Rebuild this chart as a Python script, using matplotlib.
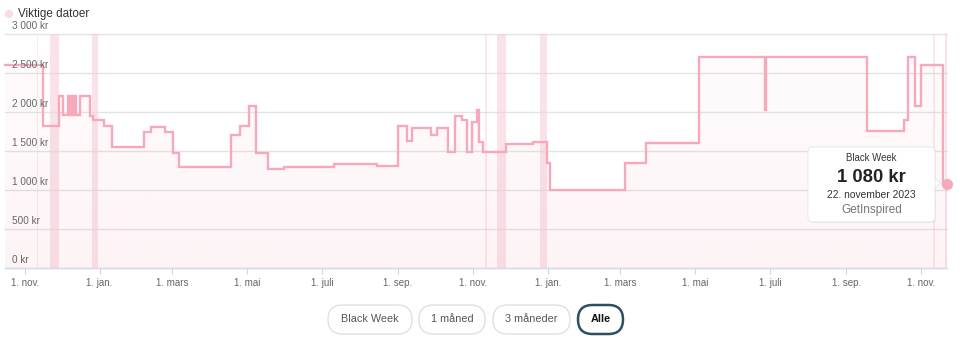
import numpy as np
import matplotlib
matplotlib.use("Agg")
import matplotlib.pyplot as plt
import matplotlib.dates as mdates
from matplotlib.patches import FancyBboxPatch, Polygon
import pandas as pd

plt.rcParams['font.family'] = ['Liberation Sans', 'DejaVu Sans']

# price history (date of change, price in kr)
change_dates = ["2021-10-16", "2021-11-16", "2021-11-29", "2021-12-02", "2021-12-06",
                "2021-12-07", "2021-12-09", "2021-12-10", "2021-12-11", "2021-12-13",
                "2021-12-16", "2021-12-24", "2021-12-27", "2022-01-05", "2022-01-11",
                "2022-02-06", "2022-02-12", "2022-02-23", "2022-03-02", "2022-03-07",
                "2022-04-18", "2022-04-25", "2022-05-03", "2022-05-08", "2022-05-18",
                "2022-05-31", "2022-07-11", "2022-08-15", "2022-09-01", "2022-09-08",
                "2022-09-12", "2022-09-28", "2022-10-03", "2022-10-12", "2022-10-17",
                "2022-10-23", "2022-10-27", "2022-10-31", "2022-11-04", "2022-11-06",
                "2022-11-09", "2022-11-28", "2022-12-20", "2022-12-31", "2023-01-03",
                "2023-03-05", "2023-03-22", "2023-05-04", "2023-06-27", "2023-06-28",
                "2023-09-18", "2023-10-18", "2023-10-21", "2023-10-27", "2023-11-01",
                "2023-11-19", "2023-11-22"]
prices = [2600, 1820, 2210, 1960, 2210,
          1960, 2210, 1960, 2210, 1960,
          2210, 1950, 1900, 1820, 1555,
          1750, 1810, 1750, 1480, 1300,
          1705, 1825, 2080, 1480, 1265,
          1290, 1330, 1305, 1820, 1630,
          1800, 1705, 1800, 1485, 1950,
          1900, 1485, 1875, 2025, 1620,
          1490, 1590, 1620, 1340, 1000,
          1350, 1600, 2700, 2020, 2700,
          1760, 1900, 2700, 2080, 2600,
          1080, 1080]

# important dates (Viktige datoer)
band_starts = ["2021-11-22", "2021-12-26", "2022-11-21", "2022-12-26", "2023-11-20"]
band_ends = ["2021-11-29", "2021-12-31", "2022-11-28", "2022-12-31", "2023-11-27"]
single_days = ["2021-11-11", "2022-11-11", "2023-11-11"]

y_ticks = [0, 500, 1000, 1500, 2000, 2500, 3000]
y_labels = ["0 kr", "500 kr", "1 000 kr", "1 500 kr", "2 000 kr", "2 500 kr", "3 000 kr"]
x_tick_dates = ["2021-11-01", "2022-01-01", "2022-03-01", "2022-05-01", "2022-07-01",
                "2022-09-01", "2022-11-01", "2023-01-01", "2023-03-01", "2023-05-01",
                "2023-07-01", "2023-09-01", "2023-11-01"]
x_tick_labels = ["1. nov.", "1. jan.", "1. mars", "1. mai", "1. juli", "1. sep.",
                 "1. nov.", "1. jan.", "1. mars", "1. mai", "1. juli", "1. sep.", "1. nov."]

buttons = ["Black Week", "1 måned", "3 måneder", "Alle"]

pink = "#f5a9bb"
band_col = "#f7cfd9"

dates = pd.to_datetime(change_dates)
xnum = mdates.date2num(dates)

fig = plt.figure(figsize=(9.6, 3.6), dpi=100)
ax = fig.add_axes([5 / 960, 92 / 360, 942 / 960, 234 / 360])
ax.set_xlim(xnum[0], xnum[-1])
ax.set_ylim(0, 3000)

# bands for important dates
for s, e in zip(band_starts, band_ends):
    ax.axvspan(mdates.date2num(pd.Timestamp(s)), mdates.date2num(pd.Timestamp(e)),
               color=band_col, alpha=0.6, lw=0, zorder=1)
for d in single_days:
    t = mdates.date2num(pd.Timestamp(d))
    ax.axvspan(t, t + 1.2, color=band_col, alpha=0.45, lw=0, zorder=1)

# gridlines
for v in y_ticks:
    ax.axhline(v, color="#e3e3e3", lw=1, zorder=0.5, clip_on=False)
ax.axhline(0, color="#d5dbe8", lw=1, zorder=0.6, clip_on=False)

for v, lab in zip(y_ticks, y_labels):
    ax.annotate(lab, xy=(0, v), xycoords=('axes fraction', 'data'),
                xytext=(5, 2), textcoords='offset points',
                fontsize=7.2, color="#666666", ha='left', va='bottom', zorder=5)

# gradient area under line
fill = ax.fill_between(xnum, prices, step='post', color='none', lw=0)
grad = np.zeros((100, 1, 4))
rgb = matplotlib.colors.to_rgb(pink)
grad[..., 0], grad[..., 1], grad[..., 2] = rgb
grad[:, 0, 3] = np.linspace(0.13, 0.03, 100)
im = ax.imshow(grad, extent=[xnum[0], xnum[-1], 3000, 0], aspect='auto',
               zorder=1.5, interpolation='bilinear')
im.set_clip_path(fill.get_paths()[0], transform=ax.transData)
ax.set_xlim(xnum[0], xnum[-1])
ax.set_ylim(0, 3000)

ax.plot(xnum, prices, drawstyle='steps-post', color=pink, lw=1.7, zorder=3,
        solid_joinstyle='miter', clip_on=False)
ax.plot([xnum[-1]], [prices[-1]], 'o', color=pink, ms=7, zorder=4, clip_on=False)

ax.set_xticks(mdates.date2num(pd.to_datetime(x_tick_dates)))
ax.set_xticklabels(x_tick_labels)
ax.tick_params(axis='x', length=4, color="#ccd6eb", labelcolor="#666666",
               labelsize=7, pad=3)
ax.set_yticks([])
for sp in ax.spines.values():
    sp.set_visible(False)
ax.set_facecolor('none')

tr = fig.dpi_scale_trans


def px(x, y):
    return x / 100, (360 - y) / 100


# legend
fig.add_artist(matplotlib.patches.Circle(px(9, 14), 0.042, transform=tr,
                                         color="#f9dce3", lw=0))
fig.text(18 / 960, 1 - 14 / 360, "Viktige datoer", fontsize=8.4, color="#333333",
         ha='left', va='center')

# tooltip
x0, y0, x1, y1 = 808, 147, 935, 222
shadow = FancyBboxPatch(px(x0 + 1, y1 + 1), (x1 - x0) / 100, (y1 - y0) / 100,
                        boxstyle="round,pad=0,rounding_size=0.05", transform=tr,
                        fc="#000000", alpha=0.06, lw=0)
fig.add_artist(shadow)
fig.add_artist(Polygon([px(x1 - 1, 178), px(941, 183), px(x1 - 1, 188)], closed=True,
                       transform=tr, fc="white", ec="#e6e6e6", lw=0.6))
box = FancyBboxPatch(px(x0, y1), (x1 - x0) / 100, (y1 - y0) / 100,
                     boxstyle="round,pad=0,rounding_size=0.05", transform=tr,
                     fc="white", ec="#e6e6e6", lw=0.6)
fig.add_artist(box)
cx = (x0 + x1) / 2 / 960
fig.text(cx, 1 - 158 / 360, "Black Week", fontsize=6.9, color="#333333",
         ha='center', va='center')
fig.text(cx, 1 - 177 / 360, "1 080 kr", fontsize=13.3, color="#222222",
         ha='center', va='center', fontweight='bold')
fig.text(cx, 1 - 194.5 / 360, "22. november 2023", fontsize=7.4, color="#333333",
         ha='center', va='center')
fig.text(cx, 1 - 209.5 / 360, "GetInspired", fontsize=8.5, color="#777777",
         ha='center', va='center')

# range buttons
btn_x = [(328, 412), (419, 485), (493, 570), (578, 623)]
for (bx0, bx1), lab in zip(btn_x, buttons):
    active = lab == "Alle"
    h = 29
    p = FancyBboxPatch(px(bx0, 334), (bx1 - bx0) / 100, h / 100,
                       boxstyle="round,pad=0,rounding_size=%f" % (h / 200),
                       transform=tr, fc="white",
                       ec="#2e4f60" if active else "#dddddd",
                       lw=1.8 if active else 0.9)
    fig.add_artist(p)
    fig.text((bx0 + bx1) / 2 / 960, 1 - 319.5 / 360, lab, fontsize=7.8,
             color="#111111" if active else "#555555",
             fontweight='bold' if active else 'normal', ha='center', va='center')

fig.savefig("out.png", dpi=100, facecolor="white")
